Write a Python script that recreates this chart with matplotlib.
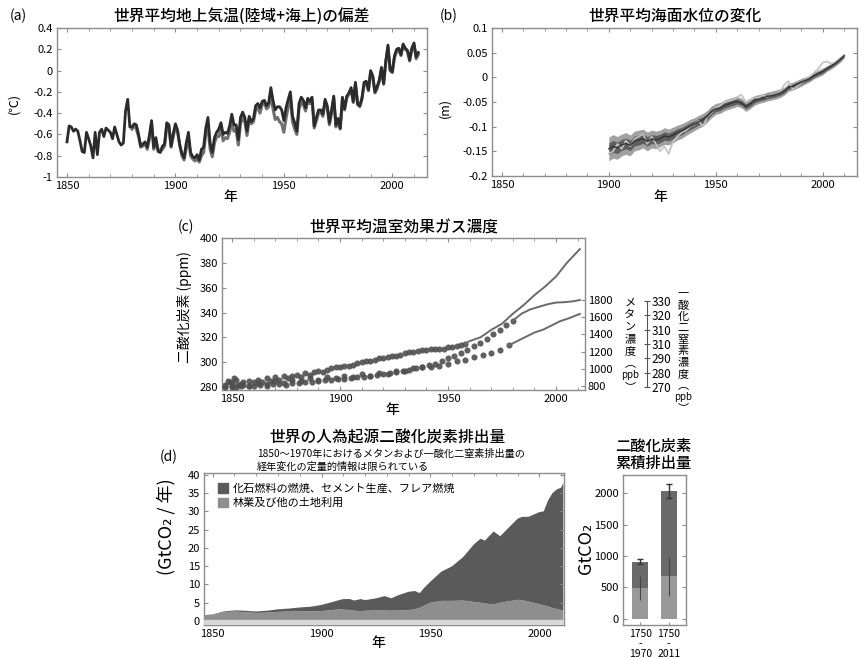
import numpy as np
import matplotlib.pyplot as plt
from matplotlib.patches import Patch
from matplotlib.ticker import MultipleLocator, FuncFormatter

plt.rcParams['font.family'] = ['Noto Sans CJK JP', 'DejaVu Sans']
plt.rcParams['axes.unicode_minus'] = False

# (a) global mean surface temperature anomaly (deg C)
temp_years = np.arange(1850, 2013)
temp_main = [-0.67, -0.52, -0.53, -0.57, -0.55, -0.57, -0.66, -0.76, -0.77, -0.58,
             -0.64, -0.71, -0.82, -0.58, -0.79, -0.58, -0.55, -0.62, -0.54, -0.56,
             -0.58, -0.64, -0.53, -0.60, -0.67, -0.70, -0.68, -0.38, -0.27, -0.53,
             -0.53, -0.50, -0.51, -0.60, -0.71, -0.69, -0.67, -0.72, -0.61, -0.47,
             -0.72, -0.63, -0.76, -0.77, -0.71, -0.69, -0.49, -0.51, -0.71, -0.59,
             -0.50, -0.56, -0.70, -0.78, -0.82, -0.68, -0.58, -0.77, -0.81, -0.82,
             -0.79, -0.84, -0.74, -0.72, -0.54, -0.44, -0.68, -0.77, -0.63, -0.58,
             -0.55, -0.49, -0.60, -0.58, -0.59, -0.52, -0.41, -0.51, -0.51, -0.65,
             -0.44, -0.39, -0.44, -0.57, -0.43, -0.48, -0.45, -0.33, -0.31, -0.35,
             -0.29, -0.28, -0.33, -0.30, -0.16, -0.28, -0.37, -0.34, -0.34, -0.37,
             -0.47, -0.35, -0.27, -0.20, -0.43, -0.49, -0.57, -0.31, -0.25, -0.28,
             -0.35, -0.26, -0.29, -0.25, -0.52, -0.44, -0.37, -0.37, -0.41, -0.27,
             -0.33, -0.49, -0.37, -0.24, -0.51, -0.45, -0.54, -0.25, -0.36, -0.24,
             -0.21, -0.16, -0.29, -0.11, -0.31, -0.33, -0.26, -0.11, -0.10, -0.18,
             0.00, -0.05, -0.20, -0.15, -0.09, 0.03, -0.12, 0.09, 0.24, 0.01,
             -0.01, 0.14, 0.20, 0.21, 0.15, 0.25, 0.21, 0.19, 0.10, 0.21,
             0.26, 0.13, 0.17]
temp2_years = np.arange(1880, 2013)
temp_alt = [-0.55, -0.52, -0.55, -0.62, -0.72, -0.71, -0.68, -0.74, -0.64, -0.50,
            -0.74, -0.66, -0.74, -0.76, -0.74, -0.71, -0.53, -0.53, -0.72, -0.62,
            -0.53, -0.58, -0.70, -0.80, -0.84, -0.73, -0.64, -0.80, -0.83, -0.85,
            -0.83, -0.86, -0.80, -0.77, -0.60, -0.52, -0.74, -0.81, -0.68, -0.62,
            -0.62, -0.55, -0.66, -0.63, -0.64, -0.58, -0.48, -0.57, -0.56, -0.70,
            -0.50, -0.44, -0.48, -0.61, -0.46, -0.50, -0.48, -0.37, -0.35, -0.40,
            -0.32, -0.30, -0.36, -0.34, -0.22, -0.36, -0.46, -0.44, -0.48, -0.50,
            -0.58, -0.45, -0.34, -0.26, -0.48, -0.55, -0.60, -0.36, -0.30, -0.32,
            -0.38, -0.29, -0.31, -0.28, -0.54, -0.47, -0.40, -0.39, -0.43, -0.30,
            -0.35, -0.51, -0.40, -0.26, -0.53, -0.47, -0.55, -0.27, -0.37, -0.26,
            -0.22, -0.18, -0.30, -0.13, -0.32, -0.34, -0.27, -0.13, -0.11, -0.19,
            -0.02, -0.06, -0.21, -0.17, -0.10, 0.01, -0.13, 0.08, 0.22, 0.00,
            -0.02, 0.12, 0.18, 0.19, 0.14, 0.24, 0.20, 0.18, 0.09, 0.20,
            0.24, 0.11, 0.15]

# (b) global mean sea level change (m)
sl_years = np.arange(1900, 2011, 2)
sl_main = [-0.145, -0.140, -0.143, -0.137, -0.134, -0.138, -0.129, -0.127, -0.124, -0.130,
           -0.125, -0.127, -0.124, -0.119, -0.121, -0.117, -0.112, -0.109, -0.104, -0.099,
           -0.095, -0.090, -0.086, -0.079, -0.070, -0.064, -0.062, -0.057, -0.054, -0.051,
           -0.049, -0.052, -0.059, -0.054, -0.047, -0.044, -0.042, -0.039, -0.037, -0.035,
           -0.032, -0.028, -0.020, -0.018, -0.014, -0.010, -0.006, -0.002, 0.004, 0.008,
           0.012, 0.018, 0.023, 0.029, 0.036, 0.044]
sl_unc = [0.024, 0.024, 0.023, 0.022, 0.022, 0.021, 0.020, 0.020, 0.019, 0.019,
          0.018, 0.018, 0.017, 0.017, 0.016, 0.016, 0.015, 0.015, 0.014, 0.014,
          0.013, 0.013, 0.013, 0.012, 0.012, 0.011, 0.011, 0.011, 0.011, 0.011,
          0.010, 0.010, 0.010, 0.010, 0.010, 0.009, 0.009, 0.009, 0.009, 0.009,
          0.009, 0.008, 0.008, 0.008, 0.008, 0.008, 0.007, 0.007, 0.007, 0.007,
          0.007, 0.006, 0.006, 0.006, 0.006, 0.005]
sl_alt = [-0.155, -0.150, -0.135, -0.145, -0.128, -0.140, -0.125, -0.120, -0.115, -0.135,
          -0.120, -0.135, -0.150, -0.140, -0.155, -0.130, -0.120, -0.112, -0.108, -0.100,
          -0.096, -0.088, -0.100, -0.080, -0.072, -0.062, -0.058, -0.050, -0.048, -0.045,
          -0.040, -0.035, -0.050, -0.045, -0.040, -0.042, -0.036, -0.040, -0.035, -0.034,
          -0.030, -0.015, -0.008, -0.025, -0.018, -0.012, -0.005, 0.002, 0.010, 0.018,
          0.030, 0.032, 0.028, 0.030, 0.038, 0.045]

# (c) greenhouse gas concentrations
co2_ice_years = [1847, 1848, 1849, 1850, 1851, 1852, 1853, 1854, 1855, 1858, 1860, 1862,
                 1864, 1866, 1868, 1870, 1872, 1874, 1876, 1878, 1880, 1882, 1884, 1886,
                 1888, 1890, 1892, 1894, 1896, 1898, 1900, 1902, 1904, 1906, 1908, 1910,
                 1912, 1914, 1916, 1918, 1920, 1922, 1924, 1926, 1928, 1930, 1932, 1934,
                 1936, 1938, 1940, 1942, 1944, 1946, 1948, 1950, 1952, 1954, 1956, 1958]
co2_ice = [282, 285, 284, 283, 287, 286, 282, 281, 284, 285, 284, 286,
           284, 287, 285, 288, 286, 289, 287, 289, 290, 288, 291, 290,
           292, 293, 292, 294, 295, 296, 296, 297, 297, 298, 299, 300,
           301, 301, 302, 303, 303, 304, 305, 305, 306, 307, 308, 308,
           309, 310, 310, 311, 311, 311, 311, 312, 312, 313, 314, 315]
co2_obs_years = [1958, 1960, 1965, 1970, 1975, 1980, 1985, 1990, 1995, 2000, 2005, 2011]
co2_obs = [315, 317, 320, 326, 331, 339, 346, 354, 361, 369, 380, 391]

ch4_ice_years = [1847, 1850, 1852, 1855, 1858, 1860, 1863, 1866, 1869, 1872, 1875, 1878,
                 1881, 1884, 1887, 1890, 1893, 1896, 1899, 1902, 1905, 1908, 1911, 1914,
                 1917, 1920, 1923, 1926, 1929, 1932, 1935, 1938, 1941, 1944, 1947, 1950,
                 1953, 1956, 1959, 1962, 1965, 1968, 1971, 1974, 1977, 1980]
ch4_ice = [790, 800, 785, 810, 795, 805, 815, 800, 820, 825, 815, 835,
           840, 850, 845, 860, 865, 870, 880, 885, 895, 900, 910, 920,
           930, 940, 955, 960, 975, 990, 1005, 1020, 1040, 1060, 1090, 1120,
           1150, 1180, 1220, 1260, 1300, 1350, 1400, 1450, 1510, 1560]
ch4_obs_years = [1980, 1984, 1988, 1992, 1996, 2000, 2004, 2008, 2011]
ch4_obs = [1560, 1640, 1690, 1720, 1750, 1770, 1775, 1785, 1800]

n2o_ice_years = [1847, 1850, 1854, 1858, 1862, 1866, 1870, 1874, 1878, 1882, 1886, 1890,
                 1894, 1898, 1902, 1906, 1910, 1914, 1918, 1922, 1926, 1930, 1934, 1938,
                 1942, 1946, 1950, 1954, 1958, 1962, 1966, 1970, 1974, 1978]
n2o_ice = [271, 270, 272, 271, 273, 272, 274, 273, 275, 274, 276, 275,
           277, 276, 278, 277, 279, 278, 280, 279, 281, 281, 283, 284,
           284, 285, 286, 288, 289, 291, 292, 294, 296, 299]
n2o_obs_years = [1978, 1982, 1986, 1990, 1994, 1998, 2002, 2006, 2011]
n2o_obs = [299, 302, 305, 308, 310, 313, 316, 318, 321]
n2o_ticks = [270, 280, 290, 300, 310, 320, 330]
n2o_tick_labels = ['270', '280', '290', '310', '310', '320', '330']

# (d) anthropogenic CO2 emissions (GtCO2/yr)
em_years = [1846, 1850, 1855, 1860, 1865, 1870, 1875, 1880, 1885, 1890, 1895, 1900, 1905,
            1908, 1910, 1913, 1915, 1918, 1920, 1925, 1929, 1932, 1935, 1940, 1943,
            1945, 1947, 1950, 1955, 1960, 1965, 1970, 1973, 1975, 1979, 1982, 1985,
            1990, 1992, 1995, 2000, 2002, 2004, 2006, 2008, 2010, 2011]
em_land = [1.5, 1.7, 2.4, 2.6, 2.4, 2.2, 2.3, 2.5, 2.6, 2.7, 2.6, 2.7, 3.0,
           3.2, 3.1, 3.0, 2.8, 2.7, 2.8, 2.9, 2.9, 2.8, 2.9, 3.0, 3.2,
           3.6, 4.2, 5.0, 5.5, 5.5, 5.6, 5.2, 5.0, 4.8, 4.5, 5.0, 5.3,
           5.8, 5.7, 5.3, 4.6, 4.3, 4.0, 3.6, 3.3, 3.0, 2.8]
em_fossil = [0.1, 0.1, 0.2, 0.3, 0.4, 0.4, 0.5, 0.7, 0.8, 1.0, 1.3, 1.7, 2.2,
             2.5, 2.9, 3.0, 2.8, 3.3, 2.9, 3.3, 3.9, 3.4, 4.1, 5.0, 5.0,
             4.0, 4.8, 5.8, 8.0, 9.5, 11.9, 15.8, 17.5, 17.2, 20.0, 18.2, 19.7,
             22.2, 22.8, 23.2, 25.2, 25.7, 29.0, 31.4, 32.7, 33.5, 35.0]

# cumulative emissions (GtCO2)
cum_labels = ['1750\n-\n1970', '1750\n-\n2011']
cum_land = [490, 680]
cum_fossil = [420, 1360]
cum_total_err = [45, 110]
cum_land_err = [190, 310]

# stacked vertical axis labels
ch4_label = ['メ', 'タ', 'ン', '濃', '度', '︵', 'ppb', '︶']
n2o_label = ['一', '酸', '化', '二', '窒', '素', '濃', '度', '︵', 'ppb', '︶']

W, H = 862, 658
fig = plt.figure(figsize=(W / 100, H / 100), dpi=100)


def box(l, t, r, b):
    return [l / W, 1 - b / H, (r - l) / W, (b - t) / H]


def ftext(x, y, s, **kw):
    fig.text(x / W, 1 - y / H, s, ha=kw.pop('ha', 'center'), va=kw.pop('va', 'center'), **kw)


def vlabel(x, y0, step, chars, size):
    for i, c in enumerate(chars):
        ftext(x, y0 + i * step, c, fontsize=size if len(c) == 1 else size - 1)


def style(ax, right=True):
    for s in ax.spines.values():
        s.set_color('#8c8c8c')
        s.set_linewidth(1.0)
    ax.tick_params(which='both', direction='in', top=True, right=right,
                   color='#8c8c8c', labelsize=8, pad=3)
    ax.tick_params(which='major', length=3, width=0.8)
    ax.tick_params(which='minor', length=2, width=0.6)


def fmt(v, p):
    if abs(v) < 1e-9:
        return '0'
    return f'{round(v, 3):g}'


# ---- (a)
axa = fig.add_axes(box(57, 28, 427, 177))
axa.plot(temp2_years, temp_alt, color='#707070', lw=2.2)
axa.plot(temp_years, temp_main, color='#2b2b2b', lw=2.0)
axa.set_xlim(1845.4, 2016)
axa.set_ylim(-1, 0.4)
axa.set_xticks([1850, 1900, 1950, 2000])
axa.xaxis.set_minor_locator(MultipleLocator(10))
axa.set_yticks(np.arange(-1, 0.41, 0.2))
axa.yaxis.set_major_formatter(FuncFormatter(fmt))
style(axa)

# ---- (b)
axb = fig.add_axes(box(492, 28, 857, 176))
sm = np.array(sl_main)
su = np.array(sl_unc)
axb.fill_between(sl_years, sm - su, sm + su, color='#8a8a8a', alpha=0.8, lw=0)
axb.fill_between(sl_years, sm - su / 2, sm + su / 2, color='#4e4e4e', alpha=0.8, lw=0)
axb.plot(sl_years, sl_alt, color='#c2c2c2', lw=1.2)
axb.plot(sl_years, sl_main, color='#333333', lw=1.0)
axb.set_xlim(1845.4, 2016)
axb.set_ylim(-0.2, 0.1)
axb.set_xticks([1850, 1900, 1950, 2000])
axb.xaxis.set_minor_locator(MultipleLocator(10))
axb.set_yticks(np.arange(-0.2, 0.101, 0.05))
axb.yaxis.set_major_formatter(FuncFormatter(fmt))
style(axb)

# ---- (c)
dot = dict(ls='none', marker='o', ms=4.4, color='#4f4f4f', mec='none', alpha=0.9)
axc = fig.add_axes(box(222, 238, 585, 390))
axc.plot(co2_ice_years, co2_ice, **dot)
axc.plot(co2_obs_years, co2_obs, color='#6a6a6a', lw=1.4)
axc.set_xlim(1845.4, 2013.4)
axc.set_ylim(277.6, 400)
axc.set_xticks([1850, 1900, 1950, 2000])
axc.xaxis.set_minor_locator(MultipleLocator(10))
axc.set_yticks(np.arange(280, 401, 20))
style(axc, right=False)

axm = axc.twinx()
axm.plot(ch4_ice_years, ch4_ice, **dot)
axm.plot(ch4_obs_years, ch4_obs, color='#6a6a6a', lw=1.4)
axm.set_ylim(753, 2521)
axm.set_yticks(np.arange(800, 1801, 200))
for s in axm.spines.values():
    s.set_visible(False)
axm.tick_params(direction='in', length=3, color='#8c8c8c', labelsize=8, pad=2)

axn = axc.twinx()
axn.plot(n2o_ice_years, n2o_ice, **dot)
axn.plot(n2o_obs_years, n2o_obs, color='#6a6a6a', lw=1.4)
axn.set_ylim(267.9, 374)
for k in ['top', 'bottom', 'left']:
    axn.spines[k].set_visible(False)
axn.spines['right'].set_position(('axes', 1.171))
axn.spines['right'].set_bounds(270, 330)
axn.spines['right'].set_color('#555555')
axn.spines['right'].set_linewidth(0.8)
axn.set_yticks(n2o_ticks)
axn.set_yticklabels(n2o_tick_labels)
axn.tick_params(direction='inout', length=4, color='#555555', labelsize=8.5, pad=1)

# ---- (d)
axd = fig.add_axes(box(204, 473, 564, 625))
axd.stackplot(em_years, em_land, em_fossil, colors=['#8e8e8e', '#5a5a5a'], lw=0)
axd.axhspan(-1.1, 0.35, color='#d9d9d9', zorder=3)
axd.set_xlim(1846, 2011.3)
axd.set_ylim(-1.1, 40.5)
axd.set_xticks([1850, 1900, 1950, 2000])
axd.xaxis.set_minor_locator(MultipleLocator(10))
axd.set_yticks(np.arange(0, 41, 5))
style(axd)
handles = [Patch(color='#5a5a5a'), Patch(color='#8e8e8e')]
axd.legend(handles, ['化石燃料の燃焼、セメント生産、フレア燃焼', '林業及び他の土地利用'],
           loc='upper left', bbox_to_anchor=(0.02, 0.975), frameon=False, fontsize=8,
           handlelength=0.9, handleheight=0.9, handletextpad=0.4, labelspacing=0.35,
           borderaxespad=0.2)

# ---- cumulative bars
axe = fig.add_axes(box(623, 475, 686, 625))
xpos = [0, 1]
axe.bar(xpos, cum_land, width=0.58, color='#8e8e8e', alpha=0.9, lw=0)
axe.bar(xpos, cum_fossil, bottom=cum_land, width=0.58, color='#5a5a5a', alpha=0.9, lw=0)
tops = np.array(cum_land) + np.array(cum_fossil)
axe.errorbar(xpos, tops, yerr=cum_total_err, fmt='none', ecolor='#333333', elinewidth=1, capsize=2)
axe.errorbar(xpos, cum_land, yerr=cum_land_err, fmt='none', ecolor='#444444', elinewidth=0.8)
axe.set_xlim(-0.6, 1.6)
axe.set_ylim(-100, 2290)
axe.set_xticks(xpos)
axe.set_xticklabels(cum_labels, linespacing=1.0)
axe.set_yticks(np.arange(0, 2001, 500))
style(axe)
axe.tick_params(axis='x', top=False, length=2, labelsize=7.5, pad=3)

# ---- titles and labels
tkw = dict(fontsize=11.3, fontweight='medium')
ftext(10, 16, '(a)', fontsize=10, ha='left')
ftext(242, 16, '世界平均地上気温(陸域+海上)の偏差', **tkw)
ftext(440, 16, '(b)', fontsize=10, ha='left')
ftext(675, 16, '世界平均海面水位の変化', **tkw)
ftext(178, 227, '(c)', fontsize=10, ha='left')
ftext(404, 228, '世界平均温室効果ガス濃度', **tkw)
ftext(160, 457, '(d)', fontsize=10, ha='left')
ftext(388, 438, '世界の人為起源二酸化炭素排出量', **tkw)
ftext(257, 454, '1850～1970年におけるメタンおよび一酸化二窒素排出量の', fontsize=7.3, ha='left')
ftext(257, 467, '経年変化の定量的情報は限られている', fontsize=7.3, ha='left')
ftext(653, 455, '二酸化炭素\n累積排出量', fontsize=11, fontweight='medium', linespacing=1.05)

ftext(230, 197, '年', fontsize=10, fontweight='medium')
ftext(660, 197, '年', fontsize=10, fontweight='medium')
ftext(392, 410, '年', fontsize=10, fontweight='medium')
ftext(378, 643, '年', fontsize=10, fontweight='medium')

ftext(14, 103, '(℃)', fontsize=9, rotation=90)
ftext(445, 108, '(m)', fontsize=9, rotation=90)
ftext(185, 307, '二酸化炭素 (ppm)', fontsize=10, rotation=90)
ftext(166, 527, '(GtCO₂ / 年)', fontsize=13, rotation=90)
ftext(586, 548, 'GtCO₂', fontsize=13, rotation=90)

vlabel(630, 303, 12, ch4_label, 8)
vlabel(683, 294, 11.4, n2o_label, 8)

fig.savefig('out.png', dpi=100)
